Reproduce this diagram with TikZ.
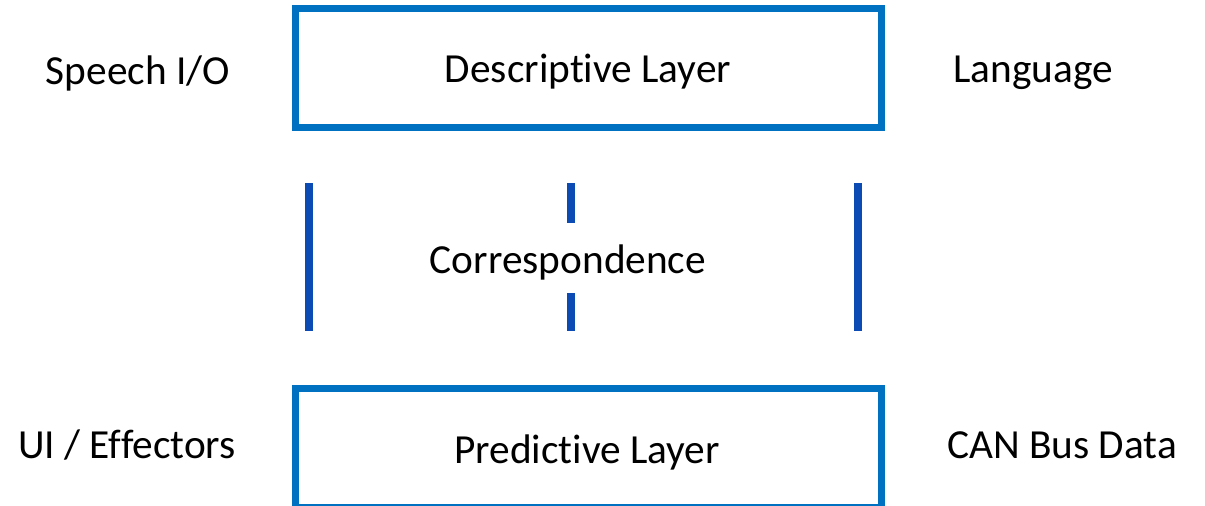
\documentclass[tikz,border=0pt]{standalone}
\usepackage{fontspec}
\setmainfont{Carlito}[RawFeature={-liga;-clig;-calt;-dlig}]
\usetikzlibrary{positioning}

\definecolor{boxblue}{HTML}{0070C0}
\definecolor{barblue}{HTML}{0B4BB3}

\begin{document}
\begin{tikzpicture}[x=0.75pt, y=-0.75pt]
        % Define styles for the layers and bars
        \tikzset{
            layer box/.style={draw=boxblue, line width=5.25pt, minimum width=439.5pt, inner sep=0pt},
            side label/.style={font=\fontsize{31}{37}\selectfont},
            bar line/.style={barblue, line width=6pt}
        }
        \useasboundingbox (0,0) rectangle (1205,506);

        % Draw the two layers
        \node[layer box, minimum height=89.25pt] (desc) at (588,68.5) {};
        \node[layer box, minimum height=89.25pt] (pred) at (588,447.5) {};
        \node[side label] (desctext) at (588,72) {Descriptive Layer};
        \node[side label] (predtext) at (587,452) {Predictive Layer};

        % Labels on the sides
        \node[side label] (speech) at (138,73) {Speech I/O};
        \node[side label] (lang) at (1033,73) {Language};
        \node[side label] (ui) at (127,445) {UI / Effectors};
        \node[side label] (can) at (1062,445) {CAN Bus Data};

        % Correspondence between the layers
        \node[side label] (corr) at (568,262) {Correspondence};
        \coordinate (lt) at (309,183);  \coordinate (lb) at (309,331);
        \coordinate (rt) at (858,183);  \coordinate (rb) at (858,331);
        \coordinate (mt) at (571,183);  \coordinate (mb) at (571,331);
        \draw[bar line] (lt) -- (lb);
        \draw[bar line] (rt) -- (rb);
        \draw[bar line] (mt) -- (mt |- 0,223);
        \draw[bar line] (mb |- 0,293) -- (mb);

    \end{tikzpicture}
\end{document}
